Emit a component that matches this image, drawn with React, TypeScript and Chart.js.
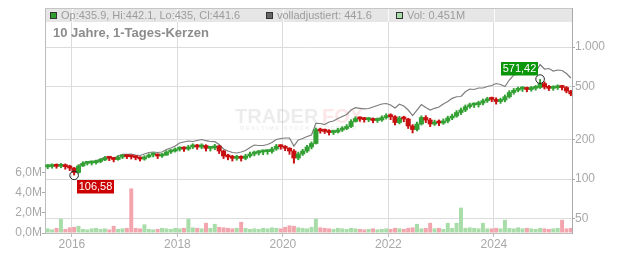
import React, { useEffect, useRef } from "react";
import { Chart, registerables } from "chart.js";

Chart.register(...registerables);

const FONT = "'Liberation Sans', Arial, Helvetica, sans-serif";

// Monthly categories, Jul 2015 .. Jun 2025
const START_YEAR = 2015;
const START_MONTH = 7;
const MONTHS: string[] = Array.from({ length: 120 }, (_, i) => {
  const m = START_MONTH - 1 + i;
  return `${START_YEAR + Math.floor(m / 12)}-${String((m % 12) + 1).padStart(2, "0")}`;
});

const FIRST_OPEN = 123.5;

const CLOSE = [
  124.4, 125.5, 124.8, 126.1, 123.9, 121.2, 112.0, 125.5, 131.5, 132.2, 132.8, 135.7,
  139.3, 144.2, 143.6, 140.5, 146.8, 148.8, 147.6, 147.2, 145.0, 141.8, 146.8, 152.0,
  152.8, 149.4, 152.0, 160.2, 163.0, 167.9, 170.8, 168.8, 174.8, 179.4, 174.8, 179.4,
  170.8, 172.0, 177.8, 163.0, 149.4, 146.8, 143.5, 145.5, 143.5, 149.4, 154.7, 157.4,
  160.2, 161.0, 161.6, 168.8, 177.2, 175.7, 171.1, 163.0, 144.2, 154.7, 163.0, 174.8,
  185.8, 237.1, 231.0, 229.5, 225.0, 227.0, 235.1, 241.3, 249.9, 272.7, 287.3, 284.8,
  281.3, 282.3, 277.5, 279.9, 292.4, 302.7, 296.5, 267.9, 289.8, 284.8, 252.1, 237.1,
  261.0, 292.4, 279.9, 261.0, 270.3, 265.6, 275.0, 289.8, 300.1, 319.0, 333.2, 353.0,
  363.6, 366.0, 376.5, 391.9, 403.7, 401.0, 386.5, 396.7, 420.2, 452.2, 469.9, 480.7,
  482.5, 476.5, 486.6, 493.4, 529.1, 497.7, 486.6, 491.7, 499.5, 493.4, 464.2, 441.6,
];

const HIGH = [
  130, 131, 131, 132, 131, 128, 123, 129, 136, 137, 138, 140,
  144, 149, 149, 147, 151, 153, 153, 152, 151, 148, 151, 156,
  158, 156, 157, 165, 168, 173, 177, 176, 181, 186, 184, 186,
  183, 178, 184, 181, 166, 155, 152, 152, 151, 155, 161, 164,
  166, 167, 168, 175, 184, 183, 180, 174, 168, 161, 169, 181,
  192, 245, 244, 241, 238, 236, 244, 251, 260, 283, 298, 298,
  295, 294, 292, 292, 303, 314, 314, 304, 300, 301, 290, 260,
  271, 303, 304, 290, 281, 282, 287, 301, 312, 332, 347, 366,
  378, 379, 391, 406, 418, 420, 415, 412, 436, 470, 488, 500,
  503, 500, 506, 514, 571.42, 548, 515, 512, 520, 516, 505, 472,
];

const LOW = [
  119, 120, 120, 121, 118, 115, 106.58, 110, 124, 127, 127, 129,
  132, 137, 137, 134, 138, 142, 142, 141, 139, 136, 138, 144,
  146, 142, 145, 150, 155, 159, 162, 161, 164, 169, 167, 169,
  162, 162, 166, 155, 142, 139, 136, 138, 136, 139, 145, 149,
  151, 152, 153, 156, 164, 167, 163, 153, 131, 139, 150, 158,
  168, 183, 221, 220, 214, 216, 222, 228, 235, 244, 268, 272,
  268, 270, 265, 267, 272, 283, 280, 255, 260, 270, 240, 222,
  230, 255, 266, 248, 253, 252, 258, 265, 280, 292, 306, 322,
  342, 346, 349, 362, 378, 383, 367, 372, 382, 408, 436, 455,
  458, 455, 460, 468, 482, 478, 465, 467, 474, 470, 447, 425,
];

const ADJUSTED = [
  125.5, 126.6, 126.6, 127.7, 125.5, 122.2, 115.0, 126.6, 132.7, 133.4, 133.8, 137.4,
  141.0, 146.3, 146.8, 143.0, 149.4, 153.9, 153.9, 154.7, 152.0, 150.7, 154.7, 158.8,
  160.2, 158.8, 160.2, 167.3, 171.7, 177.8, 187.4, 190.7, 194.0, 192.4, 195.7, 199.2,
  195.1, 192.4, 191.7, 182.5, 168.8, 163.0, 158.8, 157.4, 160.2, 164.4, 173.2, 181.0,
  179.4, 179.4, 182.5, 189.0, 199.2, 202.7, 204.5, 204.5, 177.8, 197.5, 202.7, 209.9,
  215.5, 264.2, 263.3, 258.8, 270.3, 275.0, 287.3, 297.5, 308.1, 333.2, 346.9, 343.3,
  340.3, 342.1, 351.1, 360.4, 370.0, 373.2, 363.6, 345.1, 368.1, 357.3, 333.2, 302.7,
  333.2, 366.8, 348.1, 333.2, 343.3, 351.1, 370.0, 386.5, 408.7, 420.2, 421.7, 458.5,
  480.7, 476.5, 489.1, 489.1, 502.1, 510.9, 529.1, 519.9, 502.1, 562.4, 613.6, 619.0,
  646.6, 641.0, 632.1, 641.0, 737.0, 681.3, 687.3, 657.9, 669.5, 663.7, 629.9, 582.4,
];

// volume in millions
const VOLUME = [
  0.45, 0.35, 0.5, 1.4, 0.4, 0.55, 0.6, 0.7, 0.4, 0.35, 0.45, 0.5,
  0.4, 0.45, 0.35, 0.7, 0.4, 0.45, 0.5, 4.4, 0.5, 0.45, 0.85, 0.4,
  0.35, 0.4, 0.5, 0.45, 0.4, 0.5, 0.45, 0.5, 1.4, 0.55, 0.5, 0.45,
  1.0, 0.5, 0.9, 0.6, 0.55, 0.5, 0.45, 0.5, 1.1, 0.5, 0.4, 0.45,
  0.4, 0.5, 0.45, 0.55, 0.5, 0.45, 0.6, 0.75, 0.7, 0.55, 0.5, 0.45,
  0.6, 1.4, 0.55, 0.5, 0.45, 0.4, 0.5, 0.45, 0.4, 0.5, 0.45, 0.4,
  0.35, 0.4, 0.45, 0.35, 0.4, 0.45, 0.4, 0.5, 0.45, 0.4, 0.5, 0.55,
  0.9, 0.45, 0.5, 1.0, 0.45, 0.5, 0.4, 1.0, 0.5, 1.0, 2.5, 0.5,
  0.55, 0.5, 0.45, 1.0, 0.45, 0.45, 0.5, 0.45, 1.3, 0.5, 0.45, 0.55,
  0.45, 0.5, 0.45, 0.4, 0.5, 0.45, 0.4, 0.45, 0.5, 1.3, 0.45, 0.5,
];

const YEAR_TICKS = [2016, 2018, 2020, 2022, 2024];
const PRICE_TICKS = [50, 100, 200, 500, 1000];
const VOL_TICKS = [0, 2, 4, 6];
const X_MIN = 2015.49;
const X_MAX = 2025.48;
const PRICE_MIN = 39;
const PRICE_MAX = 1975;
const VOL_MAX = 22.2;

const TITLE = "10 Jahre, 1-Tages-Kerzen";
const LEGEND = [
  { text: "Op:435.9, Hi:442.1, Lo:435, Cl:441.6", fill: "#2f9e2f", x: 50 },
  { text: "volladjustiert: 441.6", fill: "#666666", x: 266 },
  { text: "Vol: 0.451M", fill: "#a8dca8", x: 396 },
];

const T = MONTHS.map((s) => {
  const [y, m] = s.split("-").map(Number);
  return y + (m - 0.5) / 12;
});
const OPEN = [FIRST_OPEN, ...CLOSE.slice(0, -1)];
const UP = CLOSE.map((c, i) => c >= OPEN[i]);

const GREEN = "#33a033";
const RED = "#c81010";
const VOL_GREEN = "#a8dca8";
const VOL_RED = "#f3a5ad";

const fmtDe = (v: number) => v.toFixed(2).replace(".", ",");

const overlay = {
  id: "overlay",
  beforeDatasetsDraw(chart: any) {
    const { ctx, chartArea: a, scales } = chart;
    ctx.save();
    // header band
    ctx.fillStyle = "#e6e6e6";
    ctx.fillRect(a.left + 1, a.top, a.right - a.left - 1, 14);
    ctx.strokeStyle = "#fafafa";
    ctx.lineWidth = 1;
    YEAR_TICKS.forEach((v) => {
      const px = Math.round(scales.x.getPixelForValue(v)) + 0.5;
      ctx.beginPath();
      ctx.moveTo(px, a.top);
      ctx.lineTo(px, a.top + 14);
      ctx.stroke();
    });
    ctx.strokeStyle = "#c6c6c6";
    ctx.beginPath();
    ctx.moveTo(a.left, a.top + 0.5);
    ctx.lineTo(a.right, a.top + 0.5);
    ctx.stroke();

    // watermark
    ctx.textBaseline = "alphabetic";
    ctx.textAlign = "left";
    ctx.font = `bold 20px ${FONT}`;
    ctx.fillStyle = "rgba(0,0,0,0.075)";
    ctx.fillText("TRADER", 235, 123);
    ctx.fillStyle = "rgba(225,30,50,0.11)";
    ctx.fillText("FOX", 322, 123);
    ctx.font = `bold 6px ${FONT}`;
    (ctx as any).letterSpacing = "1.3px";
    ctx.fillStyle = "rgba(0,0,0,0.07)";
    ctx.fillText("REALTIME STOCK SCREENER", 240, 130);
    (ctx as any).letterSpacing = "0px";
    ctx.restore();
  },
  afterDatasetsDraw(chart: any) {
    const { ctx, chartArea: a, scales } = chart;
    const xs = scales.x;
    const ps = scales.price;
    ctx.save();

    // legend texts in header band
    ctx.font = `11px ${FONT}`;
    ctx.textBaseline = "middle";
    ctx.textAlign = "left";
    LEGEND.forEach((it) => {
      ctx.fillStyle = it.fill;
      ctx.fillRect(it.x + 0.5, a.top + 4.5, 6, 6);
      ctx.strokeStyle = "#333";
      ctx.lineWidth = 1;
      ctx.strokeRect(it.x + 0.5, a.top + 4.5, 6, 6);
      ctx.fillStyle = "#9c9c9c";
      ctx.fillText(it.text, it.x + 11, a.top + 8);
    });

    // title
    ctx.font = `bold 13px ${FONT}`;
    ctx.fillStyle = "#8c8c8c";
    ctx.textBaseline = "alphabetic";
    ctx.fillText(TITLE, a.left + 8, a.top + 29);

    // min / max markers
    const lowVal = Math.min(...LOW);
    const highVal = Math.max(...HIGH);
    const iL = LOW.indexOf(lowVal);
    const iH = HIGH.indexOf(highVal);
    const marks = [
      { x: xs.getPixelForValue(T[iL]), y: ps.getPixelForValue(lowVal), v: lowVal, color: "#cc0000", dx: 3, dy: 5 },
      { x: xs.getPixelForValue(T[iH]), y: ps.getPixelForValue(highVal), v: highVal, color: "#0a960a", dx: -39, dy: -17 },
    ];
    marks.forEach((m) => {
      ctx.beginPath();
      ctx.arc(m.x, m.y, 4.3, 0, Math.PI * 2);
      ctx.strokeStyle = "#222";
      ctx.lineWidth = 1;
      ctx.stroke();
      const bx = Math.round(m.x + m.dx);
      const by = Math.round(m.y + m.dy);
      ctx.fillStyle = m.color;
      ctx.fillRect(bx, by, 37, 13.5);
      ctx.fillStyle = "#ffffff";
      ctx.font = `11px ${FONT}`;
      ctx.textAlign = "center";
      ctx.textBaseline = "middle";
      ctx.fillText(fmtDe(m.v), bx + 18.5, by + 7);
    });
    ctx.restore();
  },
};

export default function App() {
  const ref = useRef<HTMLCanvasElement>(null);

  useEffect(() => {
    const canvas = ref.current;
    if (!canvas) return;
    const tickFont = { size: 12, family: FONT };
    const chart = new Chart(canvas, {
      type: "bar",
      data: {
        datasets: [
          {
            type: "line",
            label: "volladjustiert",
            data: ADJUSTED.map((v, i) => ({ x: T[i], y: v })),
            yAxisID: "price",
            borderColor: "#7d7d7d",
            borderWidth: 1.2,
            pointRadius: 0,
            tension: 0,
            order: 3,
          } as any,
          {
            type: "bar",
            label: "wick",
            data: HIGH.map((h, i) => ({ x: T[i], y: [LOW[i], h] })),
            yAxisID: "price",
            backgroundColor: UP.map((u) => (u ? GREEN : RED)),
            barPercentage: 0.45,
            categoryPercentage: 1,
            grouped: false,
            order: 1,
          } as any,
          {
            type: "bar",
            label: "body",
            data: CLOSE.map((c, i) => ({ x: T[i], y: [OPEN[i], c] })),
            yAxisID: "price",
            backgroundColor: UP.map((u) => (u ? GREEN : RED)),
            barPercentage: 1,
            categoryPercentage: 1,
            minBarLength: 2,
            grouped: false,
            order: 0,
          } as any,
          {
            type: "bar",
            label: "Vol",
            data: VOLUME.map((v, i) => ({ x: T[i], y: v })),
            yAxisID: "vol",
            backgroundColor: UP.map((u) => (u ? VOL_GREEN : VOL_RED)),
            barPercentage: 0.9,
            categoryPercentage: 1,
            grouped: false,
            order: 4,
          } as any,
        ],
      },
      options: {
        responsive: false,
        maintainAspectRatio: false,
        animation: false,
        devicePixelRatio: 1,
        events: [],
        layout: { padding: { top: 8, left: 0, right: 0, bottom: 0 } },
        plugins: { legend: { display: false }, tooltip: { enabled: false } },
        scales: {
          x: {
            type: "linear",
            min: X_MIN,
            max: X_MAX,
            offset: false,
            afterBuildTicks: (s: any) => {
              s.ticks = YEAR_TICKS.map((v) => ({ value: v }));
            },
            afterFit: (s: any) => {
              s.height = 20;
            },
            grid: { color: "#dcdcdc", offset: false, tickLength: 4, tickColor: "#bdbdbd" },
            border: { display: true, color: "#bdbdbd" },
            ticks: {
              color: "#a8a8a8",
              font: tickFont,
              padding: 0,
              maxRotation: 0,
              autoSkip: false,
              callback: (v: any) => String(v),
            },
          },
          price: {
            type: "logarithmic",
            position: "right",
            min: PRICE_MIN,
            max: PRICE_MAX,
            afterBuildTicks: (s: any) => {
              s.ticks = PRICE_TICKS.map((v) => ({ value: v }));
            },
            afterFit: (s: any) => {
              s.width = 60;
            },
            grid: { color: "#dcdcdc", tickLength: 3, tickColor: "#aaaaaa" },
            border: { color: "#aaaaaa" },
            ticks: {
              color: "#a8a8a8",
              font: tickFont,
              padding: 0,
              autoSkip: false,
              callback: (v: any) =>
                v >= 1000 ? `${Math.floor(v / 1000)}.${String(v % 1000).padStart(3, "0")}` : String(v),
            },
          },
          vol: {
            type: "linear",
            position: "left",
            min: 0,
            max: VOL_MAX,
            afterBuildTicks: (s: any) => {
              s.ticks = VOL_TICKS.map((v) => ({ value: v }));
            },
            afterFit: (s: any) => {
              s.width = 45;
            },
            grid: { drawOnChartArea: false, tickLength: 3, tickColor: "#aaaaaa" },
            border: { color: "#bdbdbd" },
            ticks: {
              color: "#a8a8a8",
              font: tickFont,
              padding: 0,
              autoSkip: false,
              callback: (v: any) => Number(v).toFixed(1).replace(".", ",") + "M",
            },
          },
        },
      } as any,
      plugins: [overlay],
    });
    return () => chart.destroy();
  }, []);

  return (
    <div style={{ position: "fixed", left: 0, top: 0, width: 632, height: 253, background: "#ffffff" }}>
      <canvas ref={ref} width={632} height={253} style={{ display: "block", width: 632, height: 253 }} />
    </div>
  );
}
